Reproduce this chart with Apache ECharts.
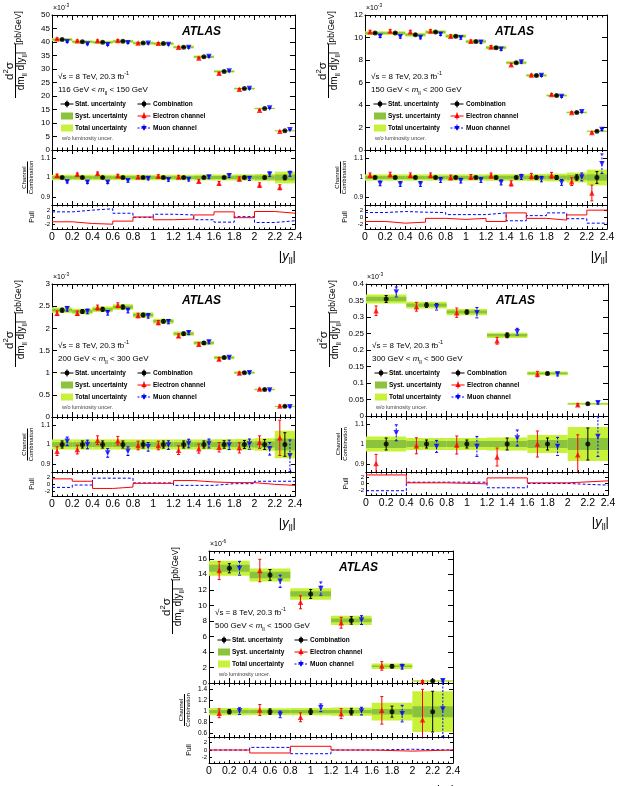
<!DOCTYPE html>
<html>
<head>
<meta charset="utf-8">
<script src="https://cdn.jsdelivr.net/npm/echarts@6/dist/echarts.min.js"></script>
<style>
html, body { margin: 0; padding: 0; background: #fff; }
#chart { width: 622px; height: 786px; }
</style>
</head>
<body>
<div id="chart"></div>
<script>
// bin edges in |y_ll| and x tick labels
const edges12 = [0, 0.2, 0.4, 0.6, 0.8, 1.0, 1.2, 1.4, 1.6, 1.8, 2.0, 2.2, 2.4];
const edges6 = [0, 0.4, 0.8, 1.2, 1.6, 2.0, 2.4];
const xTicks = [0, 0.2, 0.4, 0.6, 0.8, 1, 1.2, 1.4, 1.6, 1.8, 2, 2.2, 2.4];
const pullTicks = [-2, 0, 2];
const ratioTicksNarrow = [0.9, 1, 1.1];
const ratioTicksWide = [0.6, 0.8, 1, 1.2, 1.4];

// 116 GeV < mll < 150 GeV  (x1e-3 pb/GeV)
const p1YTicks = [0, 5, 10, 15, 20, 25, 30, 35, 40, 45, 50];
const p1Comb = [40.9, 40.1, 39.9, 40.25, 39.6, 39.4, 38.1, 34.5, 29.1, 22.75, 15.4, 7.1];
const p1Elec = [41.2, 40.5, 40.5, 40.6, 39.6, 39.5, 38.1, 34.1, 28.4, 22.5, 14.75, 6.9];
const p1Muon = [40.1, 39.25, 39.0, 39.75, 39.5, 39.1, 38.0, 34.6, 29.25, 22.75, 15.6, 7.5];
const p1RatE = [1.010, 1.016, 1.021, 1.009, 1.002, 1.007, 1.003, 0.981, 0.971, 0.993, 0.962, 0.950];
const p1RatM = [0.979, 0.976, 0.976, 0.983, 0.995, 0.988, 0.990, 1.002, 1.009, 0.995, 1.017, 1.019];
const p1ErrE = [0.007, 0.007, 0.007, 0.007, 0.007, 0.007, 0.008, 0.008, 0.009, 0.010, 0.011, 0.013];
const p1ErrM = [0.007, 0.007, 0.007, 0.007, 0.007, 0.007, 0.008, 0.008, 0.009, 0.010, 0.011, 0.013];
const p1Stat = [0.004, 0.004, 0.004, 0.004, 0.004, 0.004, 0.005, 0.005, 0.005, 0.006, 0.007, 0.012];
const p1Tot = [0.014, 0.014, 0.014, 0.014, 0.014, 0.014, 0.014, 0.015, 0.015, 0.016, 0.018, 0.030];
const p1Syst = [0.007, 0.007, 0.007, 0.007, 0.007, 0.007, 0.007, 0.008, 0.008, 0.009, 0.010, 0.015];
const p1PullE = [-1.4, -1.9, -2.1, -1.2, 0.0, -0.8, -0.6, 0.6, 1.5, -0.2, 1.6, 1.1];
const p1PullM = [1.5, 2.0, 2.4, 1.1, -0.1, 0.8, 0.6, -0.8, -1.5, 0.1, -1.6, -1.1];

// 150 GeV < mll < 200 GeV  (x1e-3 pb/GeV)
const p2YTicks = [0, 2, 4, 6, 8, 10, 12];
const p2Comb = [10.39, 10.39, 10.24, 10.48, 10.12, 9.64, 9.1, 7.76, 6.63, 4.84, 3.34, 1.67];
const p2Elec = [10.51, 10.57, 10.51, 10.57, 10.12, 9.67, 9.16, 7.58, 6.66, 4.93, 3.34, 1.55];
const p2Muon = [10.12, 10.06, 10.0, 10.3, 9.97, 9.58, 8.96, 7.82, 6.63, 4.75, 3.4, 1.82];
const p2RatE = [1.011, 1.015, 1.011, 1.011, 1.0, 1.003, 1.010, 0.970, 1.007, 1.011, 0.979, 0.921];
const p2RatM = [0.970, 0.967, 0.967, 0.987, 0.984, 0.987, 0.975, 1.003, 0.992, 0.975, 1.003, 1.070];
const p2ErrE = [0.012, 0.012, 0.012, 0.012, 0.012, 0.012, 0.013, 0.013, 0.014, 0.015, 0.020, 0.040];
const p2ErrM = [0.012, 0.012, 0.012, 0.012, 0.012, 0.012, 0.013, 0.013, 0.014, 0.015, 0.020, 0.050];
const p2Stat = [0.006, 0.006, 0.006, 0.006, 0.006, 0.006, 0.007, 0.007, 0.008, 0.010, 0.014, 0.030];
const p2Tot = [0.016, 0.016, 0.016, 0.016, 0.016, 0.016, 0.017, 0.017, 0.018, 0.020, 0.025, 0.040];
const p2Syst = [0.008, 0.008, 0.008, 0.008, 0.008, 0.008, 0.009, 0.009, 0.009, 0.010, 0.012, 0.016];
const p2PullE = [-1.3, -1.8, -1.5, -0.4, -0.7, -0.4, -1.3, 1.2, -0.4, -0.9, 0.6, 2.0];
const p2PullM = [1.3, 1.6, 1.4, 1.3, 0.7, 0.7, 1.2, -1.1, 0.4, 1.2, -0.5, -1.8];

// 200 GeV < mll < 300 GeV  (x1e-3 pb/GeV)
const p3YTicks = [0, 0.5, 1, 1.5, 2, 2.5, 3];
const p3Comb = [2.41, 2.38, 2.43, 2.48, 2.30, 2.16, 1.88, 1.67, 1.34, 1.0, 0.62, 0.24];
const p3Elec = [2.34, 2.34, 2.47, 2.52, 2.29, 2.13, 1.83, 1.64, 1.31, 0.99, 0.63, 0.25];
const p3Muon = [2.44, 2.38, 2.35, 2.40, 2.28, 2.15, 1.90, 1.69, 1.34, 1.0, 0.61, 0.23];
const p3RatE = [0.966, 0.974, 1.022, 1.019, 0.995, 0.995, 0.971, 0.979, 0.986, 0.983, 1.012, 1.034];
const p3RatM = [1.016, 1.0, 0.957, 0.966, 0.988, 0.997, 1.005, 1.005, 0.998, 1.002, 0.978, 0.943];
const p3ErrE = [0.022, 0.022, 0.022, 0.022, 0.022, 0.022, 0.022, 0.023, 0.024, 0.026, 0.032, 0.090];
const p3ErrM = [0.022, 0.022, 0.022, 0.022, 0.022, 0.022, 0.022, 0.023, 0.024, 0.026, 0.032, 0.080];
const p3Stat = [0.018, 0.018, 0.018, 0.018, 0.018, 0.018, 0.018, 0.018, 0.019, 0.020, 0.025, 0.060];
const p3Tot = [0.026, 0.026, 0.026, 0.026, 0.026, 0.026, 0.026, 0.026, 0.027, 0.028, 0.032, 0.070];
const p3Syst = [0.012, 0.012, 0.012, 0.012, 0.012, 0.012, 0.012, 0.012, 0.013, 0.014, 0.016, 0.030];
const p3PullE = [1.5, 0.8, -1.3, -0.9, 0.2, 0.2, 1.0, 0.6, 0.4, 0.4, -0.1, -0.4];
const p3PullM = [-1.0, -0.3, 1.7, 1.7, 0.3, 0.3, -0.4, -0.4, 0.1, 0.1, 0.8, 0.8];

// 300 GeV < mll < 500 GeV  (x1e-3 pb/GeV)
const p4YTicks = [0, 0.05, 0.1, 0.15, 0.2, 0.25, 0.3, 0.35, 0.4];
const p4Comb = [0.3545, 0.336, 0.315, 0.2445, 0.129, 0.037];
const p4Elec = [0.319, 0.331, 0.313, 0.228, 0.127, 0.034];
const p4Muon = [0.376, 0.331, 0.313, 0.2555, 0.127, 0.040];
const p4RatE = [0.903, 0.991, 0.995, 0.935, 1.0, 0.946];
const p4RatM = [1.056, 0.988, 0.988, 1.030, 0.988, 1.038];
const p4ErrE = [0.045, 0.040, 0.045, 0.045, 0.065, 0.100];
const p4ErrM = [0.040, 0.030, 0.050, 0.040, 0.045, 0.100];
const p4Stat = [0.030, 0.020, 0.020, 0.030, 0.030, 0.080];
const p4Tot = [0.038, 0.030, 0.030, 0.032, 0.045, 0.085];
const p4Syst = [0.020, 0.015, 0.015, 0.015, 0.020, 0.030];
const p4PullE = [2.6, 0.2, -0.1, 1.7, 0.2, 0.8];
const p4PullM = [-2.2, 0.4, 0.4, -1.3, 0.0, -0.5];

// 500 GeV < mll < 1500 GeV  (x1e-6 pb/GeV)
const p5YTicks = [0, 2, 4, 6, 8, 10, 12, 14, 16];
const p5Comb = [14.78, 13.92, 11.47, 8.06, 2.16, 0.26];
const p5Elec = [14.48, 14.48, 10.39, 7.76, 2.20, 0.20];
const p5Muon = [14.78, 13.10, 12.16, 8.10, 2.10, 0.28];
const p5RatE = [0.970, 1.030, 0.897, 0.964, 1.024, 0.855];
const p5RatM = [1.010, 0.950, 1.070, 1.010, 0.964, 1.050];
const p5ErrE = [0.08, 0.10, 0.08, 0.09, 0.25, 0.55];
const p5ErrM = [0.06, 0.06, 0.07, 0.07, 0.15, 0.50];
const p5Stat = [0.04, 0.05, 0.05, 0.06, 0.10, 0.37];
const p5Tot = [0.065, 0.060, 0.065, 0.075, 0.16, 0.37];
const p5Syst = [0.030, 0.030, 0.030, 0.030, 0.05, 0.10];
const p5PullE = [0.0, -0.8, 1.0, 0.0, -0.3, 0.0];
const p5PullM = [0.0, 0.7, -1.0, 0.0, 0.2, 0.0];

const FONT = 'Liberation Sans';
const TOT_COLOR = '#c8f23a';
const SYST_COLOR = '#8cc33c';
const RED = '#ff0000';
const BLUE = '#0000ff';

const panels = [
  { lo: '116', hi: '150', exp: '-3', yMax: 50, yTicks: p1YTicks, edges: edges12,
    comb: p1Comb, elec: p1Elec, muon: p1Muon, ratE: p1RatE, ratM: p1RatM, errE: p1ErrE, errM: p1ErrM,
    stat: p1Stat, tot: p1Tot, syst: p1Syst, pullE: p1PullE, pullM: p1PullM,
    rMin: 0.86, rMax: 1.14, rTicks: ratioTicksNarrow,
    box: { L: 52, W: 243, T: 15, mh: 135, rh: 55, ph: 24 } },
  { lo: '150', hi: '200', exp: '-3', yMax: 12, yTicks: p2YTicks, edges: edges12,
    comb: p2Comb, elec: p2Elec, muon: p2Muon, ratE: p2RatE, ratM: p2RatM, errE: p2ErrE, errM: p2ErrM,
    stat: p2Stat, tot: p2Tot, syst: p2Syst, pullE: p2PullE, pullM: p2PullM,
    rMin: 0.86, rMax: 1.14, rTicks: ratioTicksNarrow,
    box: { L: 365, W: 242, T: 15, mh: 135, rh: 55, ph: 24 } },
  { lo: '200', hi: '300', exp: '-3', yMax: 3, yTicks: p3YTicks, edges: edges12,
    comb: p3Comb, elec: p3Elec, muon: p3Muon, ratE: p3RatE, ratM: p3RatM, errE: p3ErrE, errM: p3ErrM,
    stat: p3Stat, tot: p3Tot, syst: p3Syst, pullE: p3PullE, pullM: p3PullM,
    rMin: 0.86, rMax: 1.14, rTicks: ratioTicksNarrow,
    box: { L: 52, W: 243, T: 284, mh: 133, rh: 55, ph: 24 } },
  { lo: '300', hi: '500', exp: '-3', yMax: 0.4, yTicks: p4YTicks, edges: edges6,
    comb: p4Comb, elec: p4Elec, muon: p4Muon, ratE: p4RatE, ratM: p4RatM, errE: p4ErrE, errM: p4ErrM,
    stat: p4Stat, tot: p4Tot, syst: p4Syst, pullE: p4PullE, pullM: p4PullM,
    rMin: 0.86, rMax: 1.14, rTicks: ratioTicksNarrow,
    box: { L: 366, W: 242, T: 284, mh: 132, rh: 56, ph: 23 } },
  { lo: '500', hi: '1500', exp: '-6', yMax: 17, yTicks: p5YTicks, edges: edges6,
    comb: p5Comb, elec: p5Elec, muon: p5Muon, ratE: p5RatE, ratM: p5RatM, errE: p5ErrE, errM: p5ErrM,
    stat: p5Stat, tot: p5Tot, syst: p5Syst, pullE: p5PullE, pullM: p5PullM,
    rMin: 0.54, rMax: 1.52, rTicks: ratioTicksWide,
    box: { L: 209, W: 244, T: 551, mh: 132, rh: 54, ph: 26 } }
];

const option = { animation: false, grid: [], xAxis: [], yAxis: [], series: [], graphic: [] };

function richStyles(size) {
  const s = size * 0.68;
  return {
    p: { fontSize: s, fontFamily: FONT, verticalAlign: 'top', fill: '#000' },
    b: { fontSize: s, fontFamily: FONT, verticalAlign: 'bottom', fill: '#000' },
    i: { fontSize: size, fontFamily: FONT, fontStyle: 'italic', fill: '#000' }
  };
}

function txt(x, y, text, o = {}) {
  const size = o.size || 8;
  return {
    type: 'text', x: x, y: y, rotation: o.rot || 0, silent: true, z: 20,
    style: {
      text: text, fontSize: size, fontFamily: FONT, fontWeight: o.weight || 'normal',
      fontStyle: o.style || 'normal', fill: o.color || '#000', lineHeight: Math.round(size * 1.5),
      align: o.align || 'left', verticalAlign: o.va || 'middle', rich: richStyles(size)
    }
  };
}

function vline(x, y1, y2, color, dash) {
  return { type: 'line', silent: true, z: 20, shape: { x1: x, y1: y1, x2: x, y2: y2 },
    style: { stroke: color, lineWidth: 1, lineDash: dash || null } };
}
function hline(x1, x2, y, color, dash) {
  return { type: 'line', silent: true, z: 20, shape: { x1: x1, y1: y, x2: x2, y2: y },
    style: { stroke: color, lineWidth: 1, lineDash: dash || null } };
}

function addGrid(left, top, width, height) {
  option.grid.push({ left: left, top: top, width: width, height: height });
  return option.grid.length - 1;
}

function addAxes(g, yMin, yMax, yTicks, withLabels, t) {
  const line = { show: true, onZero: false, lineStyle: { color: '#000', width: 1 } };
  const xBase = {
    gridIndex: g, type: 'value', min: 0, max: 2.4, interval: 0.2,
    splitLine: { show: false }, axisLine: line,
    axisTick: { show: true, inside: true, length: t.xMaj, lineStyle: { color: '#000' } },
    minorTick: { show: true, splitNumber: 4, length: t.xMin, lineStyle: { color: '#000' } }
  };
  option.xAxis.push(Object.assign({}, xBase, {
    position: 'bottom',
    axisLabel: withLabels ? {
      show: true, customValues: xTicks, fontSize: 10.5, fontFamily: FONT, color: '#000', margin: 3,
      formatter: v => String(+v.toFixed(1))
    } : { show: false }
  }));
  option.xAxis.push(Object.assign({}, xBase, { position: 'top', axisLabel: { show: false } }));
  const yBase = {
    gridIndex: g, type: 'value', min: yMin, max: yMax,
    splitLine: { show: false }, axisLine: line,
    axisTick: { show: true, inside: true, length: t.yMaj, customValues: yTicks, lineStyle: { color: '#000' } }
  };
  option.yAxis.push(Object.assign({}, yBase, {
    position: 'left',
    axisLabel: { show: true, customValues: yTicks, fontSize: t.yFont, fontFamily: FONT, color: '#000', margin: 2,
      formatter: v => String(+v.toFixed(3)) }
  }));
  option.yAxis.push(Object.assign({}, yBase, { position: 'right', axisLabel: { show: false } }));
}

function bandSeries(g, data, color) {
  return {
    type: 'custom', xAxisIndex: 2 * g, yAxisIndex: 2 * g, z: 1, silent: true, data: data,
    renderItem(params, api) {
      const cs = params.coordSys;
      const a = api.coord([api.value(0), api.value(3)]);
      const b = api.coord([api.value(1), api.value(2)]);
      const top = Math.max(a[1], cs.y), bot = Math.min(b[1], cs.y + cs.height);
      return { type: 'rect', shape: { x: a[0], y: top, width: b[0] - a[0], height: Math.max(bot - top, 0) },
        style: { fill: color } };
    }
  };
}

function errSeries(g, data, color, dashed) {
  return {
    type: 'custom', xAxisIndex: 2 * g, yAxisIndex: 2 * g, z: 3, silent: true, data: data,
    renderItem(params, api) {
      const cs = params.coordSys;
      const a = api.coord([api.value(0), api.value(2)]);
      const b = api.coord([api.value(0), api.value(1)]);
      const top = Math.max(a[1], cs.y), bot = Math.min(b[1], cs.y + cs.height);
      const style = { stroke: color, lineWidth: 1, lineDash: dashed ? [2, 1.5] : null };
      const ch = [{ type: 'line', shape: { x1: a[0], y1: top, x2: a[0], y2: bot }, style: style }];
      if (a[1] >= cs.y) ch.push({ type: 'line', shape: { x1: a[0] - 1.5, y1: a[1], x2: a[0] + 1.5, y2: a[1] }, style: { stroke: color, lineWidth: 1 } });
      if (b[1] <= cs.y + cs.height) ch.push({ type: 'line', shape: { x1: b[0] - 1.5, y1: b[1], x2: b[0] + 1.5, y2: b[1] }, style: { stroke: color, lineWidth: 1 } });
      return { type: 'group', children: ch };
    }
  };
}

function markSeries(g, data, color, symbol, size, rot) {
  return { type: 'scatter', xAxisIndex: 2 * g, yAxisIndex: 2 * g, z: 4, silent: true, data: data,
    symbol: symbol, symbolSize: size, symbolRotate: rot || 0, itemStyle: { color: color } };
}

function stepSeries(g, edges, vals, color, dashed) {
  const data = vals.map((v, i) => [edges[i], v]);
  data.push([edges[edges.length - 1], vals[vals.length - 1]]);
  return { type: 'line', xAxisIndex: 2 * g, yAxisIndex: 2 * g, z: 3, silent: true, data: data,
    step: 'end', symbol: 'none', lineStyle: { color: color, width: 1, type: dashed ? [3, 2] : 'solid' } };
}

function legendSym(cx, cy, color, kind, dashed) {
  const d = dashed ? [2, 1.5] : null;
  const out = [hline(cx - 6.5, cx + 6.5, cy, color, d), vline(cx, cy - 3.5, cy + 3.5, color, d)];
  if (kind === 'circle') {
    out.push({ type: 'circle', silent: true, z: 21, shape: { cx: cx, cy: cy, r: 2.4 }, style: { fill: color } });
  } else if (kind === 'up') {
    out.push({ type: 'polygon', silent: true, z: 21, shape: { points: [[cx, cy - 2.8], [cx - 2.7, cy + 1.9], [cx + 2.7, cy + 1.9]] }, style: { fill: color } });
  } else {
    out.push({ type: 'polygon', silent: true, z: 21, shape: { points: [[cx, cy + 2.8], [cx - 2.7, cy - 1.9], [cx + 2.7, cy - 1.9]] }, style: { fill: color } });
  }
  return out;
}

function boxSym(cx, cy, color) {
  return { type: 'rect', silent: true, z: 20, shape: { x: cx - 6, y: cy - 3.5, width: 12, height: 7 }, style: { fill: color } };
}

function buildPanel(P) {
  const { L, W, T, mh, rh, ph } = P.box;
  const gm = addGrid(L, T, W, mh);
  const gr = addGrid(L, T + mh, W, rh);
  const gp = addGrid(L, T + mh + rh, W, ph);
  addAxes(gm, 0, P.yMax, P.yTicks, false, { xMaj: 5, xMin: 2.5, yMaj: 5, yFont: 8 });
  addAxes(gr, P.rMin, P.rMax, P.rTicks, false, { xMaj: 4, xMin: 2, yMaj: 4, yFont: 6.5 });
  addAxes(gp, -3.5, 3.5, pullTicks, true, { xMaj: 3, xMin: 1.5, yMaj: 3, yFont: 6 });

  const e = P.edges;
  const mid = P.comb.map((_, i) => (e[i] + e[i + 1]) / 2);
  const off = (e[1] - e[0]) / 4;
  const S = option.series;

  // main panel
  S.push(bandSeries(gm, P.comb.map((c, i) => [e[i], e[i + 1], c * (1 - P.tot[i]), c * (1 + P.tot[i])]), TOT_COLOR));
  S.push(bandSeries(gm, P.comb.map((c, i) => [e[i], e[i + 1], c * (1 - P.syst[i]), c * (1 + P.syst[i])]), SYST_COLOR));
  S.push(errSeries(gm, P.elec.map((v, i) => [mid[i] - off, v * (1 - P.errE[i]), v * (1 + P.errE[i])]), RED, false));
  S.push(errSeries(gm, P.comb.map((v, i) => [mid[i], v * (1 - P.stat[i]), v * (1 + P.stat[i])]), '#000', false));
  S.push(errSeries(gm, P.muon.map((v, i) => [mid[i] + off, v * (1 - P.errM[i]), v * (1 + P.errM[i])]), BLUE, true));
  S.push(markSeries(gm, P.elec.map((v, i) => [mid[i] - off, v]), RED, 'triangle', 5.5));
  S.push(markSeries(gm, P.comb.map((v, i) => [mid[i], v]), '#000', 'circle', 5));
  S.push(markSeries(gm, P.muon.map((v, i) => [mid[i] + off, v]), BLUE, 'triangle', 5.5, 180));

  // ratio panel
  S.push(bandSeries(gr, P.tot.map((t, i) => [e[i], e[i + 1], 1 - t, 1 + t]), TOT_COLOR));
  S.push(bandSeries(gr, P.syst.map((t, i) => [e[i], e[i + 1], 1 - t, 1 + t]), SYST_COLOR));
  S.push(errSeries(gr, P.ratE.map((v, i) => [mid[i] - off, v - P.errE[i], v + P.errE[i]]), RED, false));
  S.push(errSeries(gr, P.stat.map((s, i) => [mid[i], 1 - s, 1 + s]), '#000', false));
  S.push(errSeries(gr, P.ratM.map((v, i) => [mid[i] + off, v - P.errM[i], v + P.errM[i]]), BLUE, true));
  S.push(markSeries(gr, P.ratE.map((v, i) => [mid[i] - off, v]), RED, 'triangle', 5.5));
  S.push(markSeries(gr, P.stat.map((_, i) => [mid[i], 1]), '#000', 'circle', 5));
  S.push(markSeries(gr, P.ratM.map((v, i) => [mid[i] + off, v]), BLUE, 'triangle', 5.5, 180));

  // pull panel
  S.push(stepSeries(gp, e, P.pullM, BLUE, true));
  S.push(stepSeries(gp, e, P.pullE, RED, false));

  // texts and legend
  const G = option.graphic;
  G.push(txt(L + 130, T + 17, 'ATLAS', { size: 12, weight: 'bold', style: 'italic' }));
  G.push(txt(L + 1, T - 1, '×10{p|' + P.exp + '}', { size: 7, va: 'bottom' }));
  G.push(txt(L + 6, T + 62, '√s = 8 TeV, 20.3 fb{p|-1}', { size: 8 }));
  G.push(txt(L + 6, T + 75, P.lo + ' GeV < {i|m}{b|ll} < ' + P.hi + ' GeV', { size: 8 }));
  const r1 = T + 89, r2 = T + 101, r3 = T + 113;
  const c1 = L + 15, c2 = L + 92;
  G.push(...legendSym(c1, r1, '#000', 'circle', false));
  G.push(boxSym(c1, r2, SYST_COLOR));
  G.push(boxSym(c1, r3, TOT_COLOR));
  G.push(...legendSym(c2, r1, '#000', 'circle', false));
  G.push(...legendSym(c2, r2, RED, 'up', false));
  G.push(...legendSym(c2, r3, BLUE, 'down', true));
  const lo = { size: 6.5, weight: 'bold' };
  G.push(txt(L + 23, r1, 'Stat. uncertainty', lo));
  G.push(txt(L + 23, r2, 'Syst. uncertainty', lo));
  G.push(txt(L + 23, r3, 'Total uncertainty', lo));
  G.push(txt(L + 101, r1, 'Combination', lo));
  G.push(txt(L + 101, r2, 'Electron channel', lo));
  G.push(txt(L + 101, r3, 'Muon channel', lo));
  G.push(txt(L + 10, T + 123, 'w/o luminosity uncer.', { size: 5.5, color: '#444' }));

  // axis titles
  const R = Math.PI / 2;
  G.push(txt(L - 33, T + 13, '[pb/GeV]', { size: 8.5, rot: R, align: 'center' }));
  G.push(txt(L - 42, T + 56, 'd{p|2}σ', { size: 11.5, rot: R, align: 'center' }));
  G.push(vline(L - 36.5, T + 29, T + 83, '#000'));
  G.push(txt(L - 31, T + 56, 'dm{b|ll} d|y{b|ll}|', { size: 10, rot: R, align: 'center' }));
  const rc = T + mh + rh / 2;
  G.push(txt(L - 28, rc, 'Channel', { size: 6, rot: R, align: 'center' }));
  G.push(vline(L - 24.5, rc - 16, rc + 16, '#000'));
  G.push(txt(L - 21, rc, 'Combination', { size: 6, rot: R, align: 'center' }));
  G.push(txt(L - 20, T + mh + rh + ph / 2, 'Pull', { size: 7, rot: R, align: 'center' }));
  G.push(txt(L + W + 1, T + mh + rh + ph + 27, '|{i|y}{b|ll}|', { size: 13, align: 'right' }));
}

panels.forEach(buildPanel);

const chart = echarts.init(document.getElementById('chart'), null, { renderer: 'canvas' });
chart.setOption(option);
</script>
</body>
</html>
